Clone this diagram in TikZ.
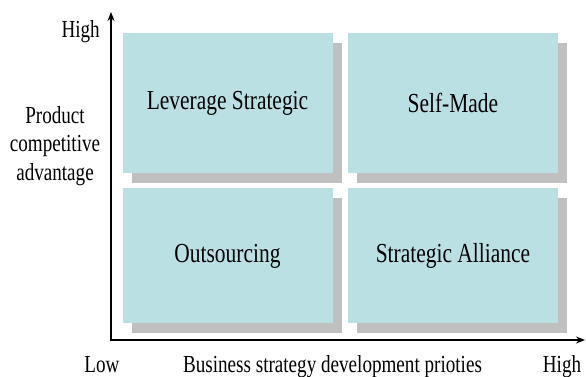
\documentclass[tikz,border=0pt]{standalone}
\usepackage{fontspec}
\setmainfont{Liberation Serif}[FakeStretch=0.78]
\usetikzlibrary{shadows,arrows.meta,positioning}
\definecolor{quadfill}{RGB}{187,224,227}
\definecolor{quadshadow}{RGB}{192,192,192}
\tikzset{
  quad/.style = {rectangle, fill=quadfill, minimum width=210pt, inner sep=0pt,
    font=\fontsize{27.5}{32}\selectfont,
    drop shadow={shadow xshift=9pt, shadow yshift=-10pt, fill=quadshadow, opacity=1}},
  axis/.style = {black, line width=2pt, <->, >={Stealth[length=9pt,width=7pt]}},
  lbl/.style = {inner sep=0pt, font=\fontsize{24.5}{28.5}\selectfont},
}

\begin{document}
\begin{tikzpicture}[x=1pt,y=-1pt,node distance=15pt]
      \useasboundingbox (0,0) rectangle (586,376);
      \node[quad, minimum height=140pt] (lev) at (227.5,103) {Leverage Strategic};
      \node[quad, minimum height=140pt, right=of lev] (self) {Self-Made};
      \node[quad, minimum height=135pt, below=of lev] (out) {Outsourcing};
      \node[quad, minimum height=135pt, below=of self] (alli) {Strategic Alliance};

      \coordinate (ytop) at (111,12);
      \coordinate (xend) at (585,340);
      \draw[axis] (ytop) |- (xend);

      \node[lbl, anchor=base east] (yhigh) at (100,37) {High};
      \node[lbl, align=center] (ylabel) at (55,146) {Product\\competitive\\advantage};
      \node[lbl, anchor=base] (xlow) at (102,372) {Low};
      \node[lbl, anchor=base] (xlabel) at (332.5,372) {Business strategy development prioties};
      \node[lbl, anchor=base] (xhigh) at (562,372) {High};
\end{tikzpicture}
\end{document}
